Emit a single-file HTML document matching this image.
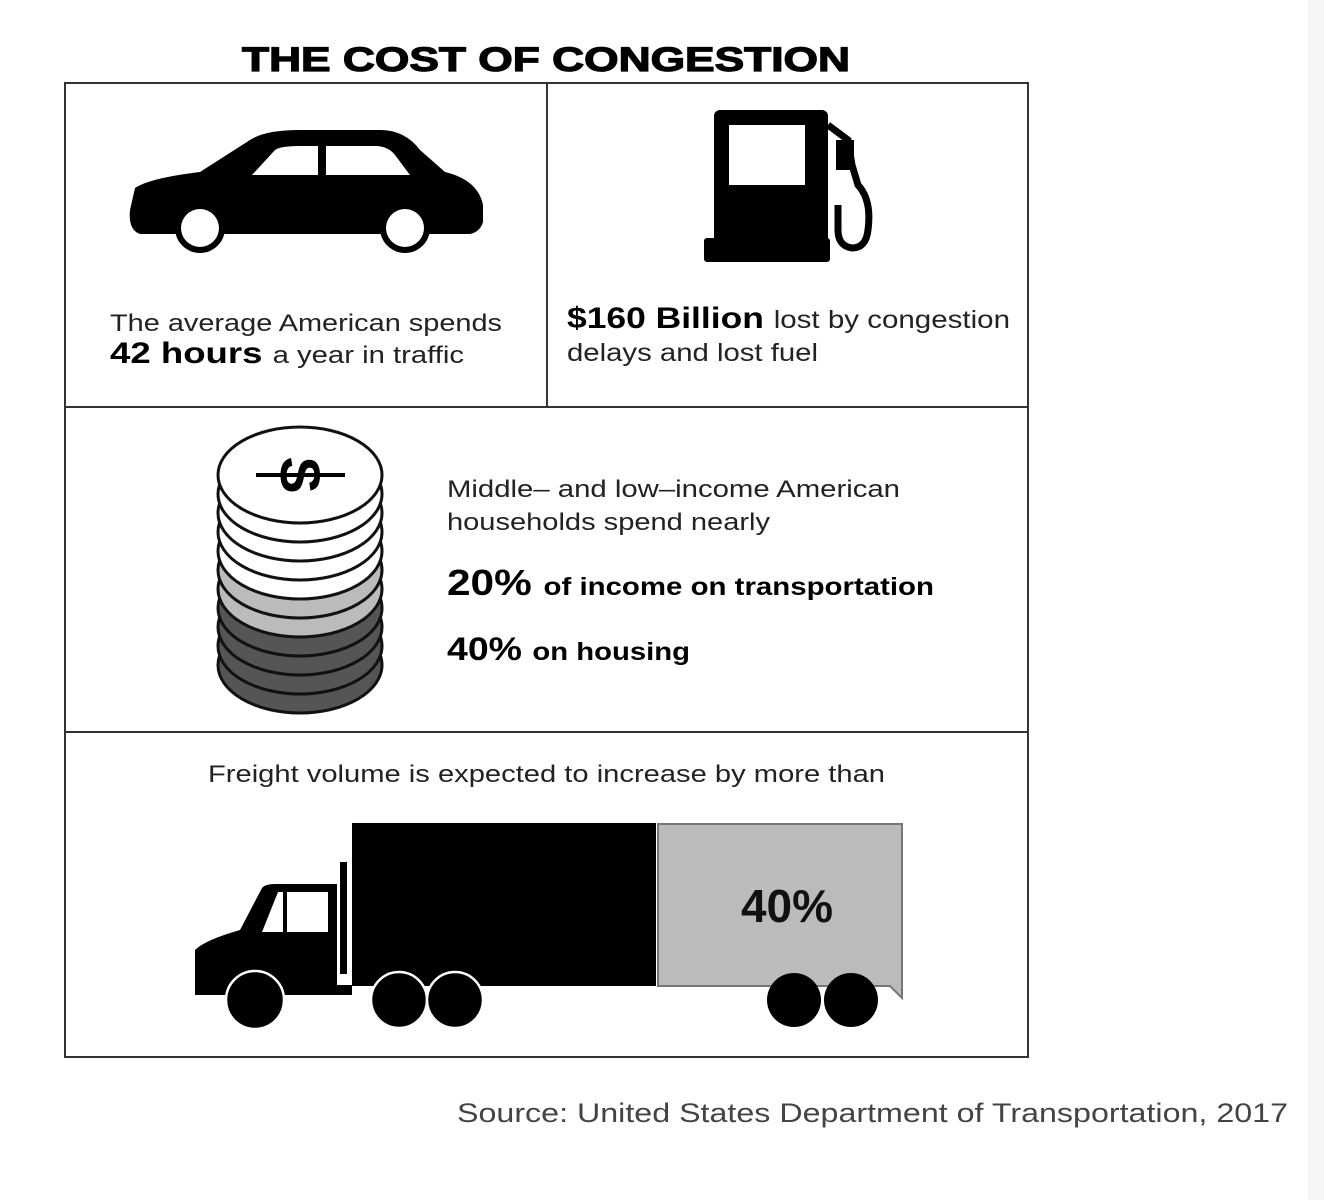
<!DOCTYPE html>
<html><head><meta charset="utf-8"><style>
html,body{margin:0;padding:0;background:#fff;}
svg{display:block;font-family:"Liberation Sans",Arial,sans-serif;}
</style></head><body>
<svg width="1324" height="1200" viewBox="0 0 1324 1200" xmlns="http://www.w3.org/2000/svg">
<rect width="1324" height="1200" fill="#fff"/>
<rect x="1308" y="0" width="16" height="1200" fill="#f6f6f6"/>
<text x="546" y="71" text-anchor="middle" font-size="34" font-weight="bold" textLength="608" lengthAdjust="spacingAndGlyphs" stroke="#000" stroke-width="1.2">THE COST OF CONGESTION</text>
<g fill="none" stroke="#333" stroke-width="2">
<rect x="65" y="83" width="963" height="974"/>
<line x1="65" y1="407" x2="1028" y2="407"/>
<line x1="65" y1="732" x2="1028" y2="732"/>
<line x1="547" y1="83" x2="547" y2="407"/>
</g>
<!-- car -->
<path d="M135 188 Q150 178 200 172 L250 140 Q265 130 300 130 L380 130 Q405 130 420 150 L445 172 Q478 180 483 205 L483 222 Q480 232 470 234 L140 234 Q128 230 130 210 Z" fill="#000"/>
<path d="M252 175 L275 150 Q280 146 300 146 L318 146 L318 175 Z M326 146 L375 146 Q388 146 395 155 L410 175 L326 175 Z" fill="#fff"/>
<circle cx="200" cy="228" r="25" fill="#000"/><circle cx="200" cy="228" r="19" fill="#fff"/>
<circle cx="405" cy="228" r="25" fill="#000"/><circle cx="405" cy="228" r="19" fill="#fff"/>
<!-- pump -->
<rect x="714" y="110" width="114" height="140" rx="6" fill="#000"/>
<rect x="704" y="238" width="126" height="24" rx="3" fill="#000"/>
<rect x="729" y="125" width="76" height="60" fill="#fff"/>
<path d="M828 125 L848 140 L852 165 L858 185 Q872 200 868 230 Q866 248 852 248 Q838 246 838 230 L838 205" fill="none" stroke="#000" stroke-width="7"/>
<rect x="836" y="140" width="18" height="30" fill="#000"/>
<!-- texts top -->
<text x="110" y="331" font-size="24" fill="#222" textLength="392" lengthAdjust="spacingAndGlyphs">The average American spends</text>
<text x="110" y="363" font-size="30" font-weight="bold" textLength="354" lengthAdjust="spacingAndGlyphs">42 hours <tspan font-size="24" font-weight="normal" fill="#222">a year in traffic</tspan></text>
<text x="567" y="328" font-size="30" font-weight="bold" textLength="443" lengthAdjust="spacingAndGlyphs">$160 Billion <tspan font-size="25" font-weight="normal" fill="#222">lost by congestion</tspan></text>
<text x="567" y="361" font-size="25" fill="#222" textLength="251" lengthAdjust="spacingAndGlyphs">delays and lost fuel</text>
<!-- coins -->
<g stroke="#111" stroke-width="3">
<ellipse cx="300" cy="665" rx="82" ry="48" fill="#555"/>
<ellipse cx="300" cy="646" rx="82" ry="48" fill="#555"/>
<ellipse cx="300" cy="627" rx="82" ry="48" fill="#555"/>
<ellipse cx="300" cy="608" rx="82" ry="48" fill="#555"/>
<ellipse cx="300" cy="589" rx="82" ry="48" fill="#bbb"/>
<ellipse cx="300" cy="570" rx="82" ry="48" fill="#bbb"/>
<ellipse cx="300" cy="551" rx="82" ry="48" fill="#fff"/>
<ellipse cx="300" cy="532" rx="82" ry="48" fill="#fff"/>
<ellipse cx="300" cy="513" rx="82" ry="48" fill="#fff"/>
<ellipse cx="300" cy="494" rx="82" ry="48" fill="#fff"/>
<ellipse cx="300" cy="475" rx="82" ry="48" fill="#fff"/>
</g>
<text x="299" y="493" text-anchor="middle" font-size="56" font-weight="bold" transform="rotate(90 299 475)">S</text>
<line x1="256" y1="475" x2="345" y2="475" stroke="#000" stroke-width="4"/>
<text x="447" y="497" font-size="24" fill="#222" textLength="453" lengthAdjust="spacingAndGlyphs">Middle– and low–income American</text>
<text x="447" y="530" font-size="24" fill="#222" textLength="323" lengthAdjust="spacingAndGlyphs">households spend nearly</text>
<text x="447" y="595" font-size="36" font-weight="bold" textLength="487" lengthAdjust="spacingAndGlyphs">20% <tspan font-size="25">of income on transportation</tspan></text>
<text x="447" y="660" font-size="32" font-weight="bold" textLength="243" lengthAdjust="spacingAndGlyphs">40% <tspan font-size="25">on housing</tspan></text>
<!-- freight -->
<text x="208" y="782" font-size="24" fill="#222" textLength="677" lengthAdjust="spacingAndGlyphs">Freight volume is expected to increase by more than</text>
<path d="M658 824 L902 824 L902 998 L890 986 L658 986 Z" fill="#bbb" stroke="#777" stroke-width="2"/>
<text x="787" y="922" text-anchor="middle" font-size="46" font-weight="bold" fill="#111">40%</text>
<rect x="352" y="823" width="304" height="163" fill="#000"/>
<rect x="340" y="862" width="7" height="112" fill="#000"/>
<path d="M195 950 Q205 940 240 930 L262 888 Q265 884 275 884 L337 884 L337 985 L352 985 L352 995 L195 995 Z" fill="#000"/>
<path d="M262 932 L278 892 L283 892 L283 932 Z M287 892 L328 892 L328 932 L287 932 Z" fill="#fff"/>
<g fill="#000" stroke="#fff" stroke-width="2.5">
<circle cx="255" cy="1000" r="29"/>
<circle cx="399" cy="1000" r="28"/>
<circle cx="455" cy="1000" r="28"/>
</g>
<g fill="#000">
<circle cx="794" cy="1000" r="27"/>
<circle cx="851" cy="1000" r="27"/>
</g>
<text x="457" y="1122" font-size="27" fill="#444" textLength="831" lengthAdjust="spacingAndGlyphs">Source: United States Department of Transportation, 2017</text>
</svg>
</body></html>
